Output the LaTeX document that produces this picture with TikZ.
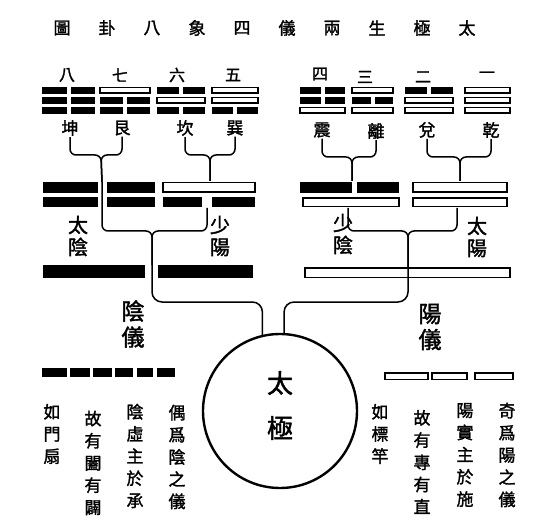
\documentclass[tikz,border=0pt]{standalone}
\usepackage{fontspec}
\newfontfamily\cjk[FakeBold=1.6]{Noto Sans CJK TC}
\newcommand\yangln[4]{\draw[yangbar] (#1,{#3-#4/2}) rectangle (#2,{#3+#4/2});}
\newcommand\yingap[6]{\fill (#1,{#5-#6/2}) rectangle (#2,{#5+#6/2}); \fill (#3,{#5-#6/2}) rectangle (#4,{#5+#6/2});}
\newcommand\tline[4]{\ifnum#4=1 \yangln{#1}{#2}{#3}{5.5}\else\yingap{#1}{{(#1+#2)/2-2}}{{(#1+#2)/2+2}}{#2}{#3}{6.5}\fi}
\newcommand\trigram[5]{\tline{#1}{#2}{90.5}{#3}\tline{#1}{#2}{100.5}{#4}\tline{#1}{#2}{110.5}{#5}}
\begin{document}
\begin{tikzpicture}[x=1pt,y=-1pt,
  conn/.style={line width=1.5pt, rounded corners=6pt},
  yangbar/.style={draw, line width=1.5pt, fill=white},
  title/.style={font=\cjk\fontsize{17}{20}\selectfont, inner sep=0pt},
  num/.style={font=\cjk\fontsize{16}{18}\selectfont, inner sep=0pt},
  gua/.style={font=\cjk\fontsize{17}{20}\selectfont, inner sep=1pt},
  xiang/.style={font=\cjk\fontsize{20}{22}\selectfont, align=center, inner sep=0pt},
  yi/.style={font=\cjk\fontsize{23}{26}\selectfont, align=center, inner sep=0pt},
  col/.style={font=\cjk\fontsize{17}{22.2}\selectfont, align=center, inner sep=0pt},
  big/.style={font=\cjk\fontsize{26}{28}\selectfont, inner sep=0pt}
]
\useasboundingbox (0,0) rectangle (543,521);

% title
\foreach \c [count=\i] in {圖,卦,八,象,四,儀,兩,生,極,太}
  \node[title] (t\i) at ({62+45*(\i-1)},28) {\c};

% numerals
\node[num] (n8) at (67,75) {八};
\node[num] (n7) at (120,75) {七};
\node[num] (n6) at (177,75) {六};
\node[num] (n5) at (233,75) {五};
\node[num] (n4) at (320,74) {四};
\node[num] (n3) at (365,77) {三};
\node[num] (n2) at (423,77) {二};
\node[num] (n1) at (487,75) {一};

% trigrams (top, middle, bottom; 1 = yang)
\trigram{42}{95}{0}{0}{0}
\trigram{100}{150}{1}{0}{0}
\trigram{157}{205}{0}{1}{0}
\trigram{212}{258}{1}{1}{0}
\trigram{300}{345}{0}{0}{1}
\trigram{352}{393}{1}{0}{1}
\trigram{405}{453}{0}{1}{1}
\trigram{465}{510}{1}{1}{1}

% trigram names
\node[gua] (kun) at (70,128) {坤};
\node[gua] (gen) at (122,128) {艮};
\node[gua] (kan) at (185,128) {坎};
\node[gua] (xun) at (235,128) {巽};
\node[gua] (zhen) at (322,130) {震};
\node[gua] (li) at (376,131) {離};
\node[gua] (dui) at (427,130) {兌};
\node[gua] (qian) at (491,130) {乾};

% joints of the first braces
\coordinate (jA) at (101,155); \coordinate (sA) at (102,182);
\coordinate (jB) at (210,155); \coordinate (sB) at (210,181);
\coordinate (jC) at (352,157); \coordinate (sC) at (352,181);
\coordinate (jD) at (460,157); \coordinate (sD) at (460,181);

\draw[conn] (kun.south) |- (jA) -- (sA);
\draw[conn] (gen.south) |- (jA) -- (sA);
\draw[conn] (kan.south) |- (jB) -- (sB);
\draw[conn] (xun.south) |- (jB) -- (sB);
\draw[conn] (zhen.south) |- (jC) -- (sC);
\draw[conn] (li.south) |- (jC) -- (sC);
\draw[conn] (dui.south) |- (jD) -- (sD);
\draw[conn] (qian.south) |- (jD) -- (sD);

% four images
\yingap{43}{98}{107}{155}{187.5}{11}
\yingap{43}{98}{107}{155}{202.5}{10}
\yangln{163}{255}{187.5}{9.5}
\yingap{163}{202}{212}{255}{202.5}{10}
\yingap{300}{352}{357}{399}{187.5}{11}
\yangln{303}{399}{202.5}{8.5}
\yangln{413}{507}{187.5}{9.5}
\yangln{413}{507}{202.5}{8.5}

\node[xiang] (taiyin) at (78,236) {太\\陰};
\node[xiang] (shaoyang) at (220,236) {少\\陽};
\node[xiang] (shaoyin) at (343,234) {少\\陰};
\node[xiang] (taiyang) at (477,237) {太\\陽};

% second braces
\coordinate (tyinT) at (102,182);
\coordinate (syangB) at (207,208);
\coordinate (syinB) at (348,208);
\coordinate (tyangB) at (457,208);
\coordinate (jE) at (152,231); \coordinate (sE) at (152,265);
\coordinate (jF) at (408,231); \coordinate (sF) at (408,267);
\draw[conn] (tyinT) |- (jE) -- (sE);
\draw[conn] (syangB) |- (jE) -- (sE);
\draw[conn] (syinB) |- (jF) -- (sF);
\draw[conn] (tyangB) |- (jF) -- (sF);

% two modes
\yingap{43}{145}{158}{253}{271.5}{13}
\yangln{305}{510}{272.5}{9.5}

\node[yi] (yinyi) at (133,324) {陰\\儀};
\node[yi] (yangyi) at (430,327) {陽\\儀};

% taiji
\node[draw, circle, line width=2.4pt, minimum size=154pt, inner sep=0pt] (taiji) at (280,411) {};
\node[big] (tai) at (280,383) {太};
\node[big] (ji) at (280,428) {極};

\coordinate (yinB) at (152,265);
\coordinate (yangB) at (408,267);
\draw[conn, rounded corners=10pt] (yinB) -- (152,302) -| (taiji.103.5);
\draw[conn, rounded corners=10pt] (yangB) -- (408,302) -| (taiji.87.8);

% legends
\yingap{42}{67}{70}{90}{372.5}{9}
\yingap{93}{112}{115}{133}{372.5}{9}
\yingap{137}{153}{157}{175}{372.5}{9}
\yangln{385}{428}{376}{6.5}
\yangln{432}{467}{376}{6.5}
\yangln{475}{513}{376}{6.5}

% columns
\node[col] (c1) at (177,457) {偶\\爲\\陰\\之\\儀};
\node[col] (c2) at (135,456) {陰\\虛\\主\\於\\承};
\node[col] (c3) at (93,463) {故\\有\\闔\\有\\闢};
\node[col] (c4) at (52,434) {如\\門\\扇};
\node[col] (c5) at (507,455) {奇\\爲\\陽\\之\\儀};
\node[col] (c6) at (465,455) {陽\\實\\主\\於\\施};
\node[col] (c7) at (422,462) {故\\有\\專\\有\\直};
\node[col] (c8) at (380,434) {如\\標\\竿};
\end{tikzpicture}
\end{document}
